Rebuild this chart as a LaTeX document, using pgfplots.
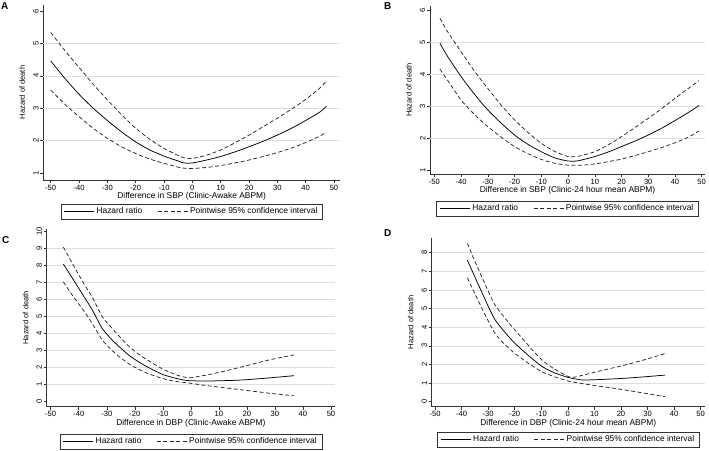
\documentclass[border=0pt]{standalone}
\usepackage{fontspec}
\setmainfont{Liberation Sans}
\usepackage{pgfplots}
\pgfplotsset{compat=1.18}
\pgfplotsset{
  hr/.style={black, line width=0.75pt, smooth, tension=0.4},
  ci/.style={black!85, line width=0.75pt, dash pattern=on 4pt off 2.5pt, smooth, tension=0.4},
  stpanel/.style={
    scale only axis,
    axis x line*=bottom, axis y line*=left,
    axis line style={black!80, line width=0.6pt, -},
    tick align=outside,
    major tick length=3pt,
    tick style={black!80, line width=0.5pt},
    xtick={-50,-40,...,50},
    tick label style={font=\fontsize{7.6}{8.5}\selectfont},
    /pgf/number format/assume math mode=true,
    yticklabel style={rotate=90, anchor=south, inner sep=1.5pt},
    xticklabel style={inner sep=1.5pt},
    every axis x label/.style={at={(ticklabel cs:0.5)}, anchor=north, inner sep=1pt, font=\fontsize{8.4}{9.5}\selectfont},
    every axis y label/.style={at={(ticklabel cs:0.5)}, anchor=south, rotate=90, inner sep=3.5pt, font=\fontsize{7.5}{8.5}\selectfont},
    ylabel={Hazard of death},
    grid style={black!12, line width=0.5pt},
    extra y tick labels={},
    extra y tick style={grid=major, major tick length=0pt},
    legend columns=2,
    legend cell align=left,
    legend image code/.code={\draw[##1] (0pt,0pt) -- (30pt,0pt);},
    legend style={at={(axis description cs:0.5,0)}, anchor=north,
      draw=black!80, font=\fontsize{8.4}{9.5}\selectfont,
      inner xsep=3pt, inner ysep=1.5pt,
      /tikz/every even column/.append style={column sep=13pt}},
  }
}
\begin{document}
\begin{tikzpicture}
\path (0,0) rectangle (709pt,450pt);
% Panel A
\begin{axis}[stpanel, at={(43.3pt,270pt)}, anchor=south west,
  width=296.7pt, height=175pt,
  xmin=-52.61, xmax=52.12, ymin=0.784, ymax=6.185,
  ytick={1,...,6}, extra y ticks={2,3,4,5},
  xlabel={Difference in SBP (Clinic-Awake ABPM)},
  legend style={yshift=-24pt}]
\addplot[hr] coordinates {(-50,4.46)(-45,3.92)(-40,3.43)(-35,3.00)(-30,2.62)(-25,2.27)(-20,1.96)(-15,1.71)(-10,1.52)(-5,1.37)(-3,1.31)(0,1.31)(5,1.40)(10,1.51)(15,1.65)(20,1.81)(25,1.98)(30,2.17)(35,2.38)(40,2.62)(45,2.88)(47.3,3.06)};
\addlegendentry{Hazard ratio}
\addplot[ci] coordinates {(-50,5.34)(-45,4.78)(-40,4.26)(-35,3.74)(-30,3.26)(-25,2.80)(-20,2.38)(-15,2.04)(-10,1.76)(-5,1.54)(-3,1.47)(0,1.45)(5,1.55)(10,1.71)(15,1.93)(20,2.17)(25,2.43)(30,2.69)(35,2.97)(40,3.27)(45,3.62)(47.3,3.84)};
\addlegendentry{Pointwise 95\% confidence interval}
\addplot[ci, forget plot] coordinates {(-50,3.56)(-45,3.12)(-40,2.74)(-35,2.38)(-30,2.07)(-25,1.81)(-20,1.60)(-15,1.43)(-10,1.30)(-5,1.18)(-3,1.15)(0,1.14)(5,1.17)(10,1.23)(15,1.31)(20,1.40)(25,1.51)(30,1.63)(35,1.77)(40,1.94)(45,2.14)(47.3,2.26)};
\end{axis}
% Panel B
\begin{axis}[stpanel, at={(430pt,276pt)}, anchor=south west,
  width=275pt, height=168pt,
  xmin=-51.61, xmax=51.23, ymin=0.897, ymax=6.124,
  ytick={1,...,6}, extra y ticks={2,3,4,5},
  xlabel={Difference in SBP (Clinic-24 hour mean ABPM)},
  legend style={yshift=-27pt}]
\addplot[hr] coordinates {(-47.9,4.96)(-45,4.55)(-40,3.93)(-35,3.38)(-30,2.89)(-25,2.48)(-20,2.11)(-15,1.82)(-10,1.59)(-5,1.40)(0,1.30)(3,1.30)(5,1.33)(10,1.44)(15,1.58)(20,1.75)(25,1.92)(30,2.11)(35,2.32)(40,2.56)(45,2.81)(49,3.03)};
\addlegendentry{Hazard ratio}
\addplot[ci] coordinates {(-47.9,5.74)(-45,5.32)(-40,4.70)(-35,4.10)(-30,3.56)(-25,3.04)(-20,2.58)(-15,2.19)(-10,1.85)(-5,1.60)(0,1.44)(3,1.44)(5,1.47)(10,1.59)(15,1.80)(20,2.06)(25,2.34)(30,2.63)(35,2.93)(40,3.25)(45,3.56)(49,3.80)};
\addlegendentry{Pointwise 95\% confidence interval}
\addplot[ci, forget plot] coordinates {(-47.9,4.16)(-45,3.81)(-40,3.20)(-35,2.75)(-30,2.37)(-25,2.04)(-20,1.75)(-15,1.53)(-10,1.35)(-5,1.23)(0,1.17)(5,1.17)(10,1.21)(15,1.28)(20,1.36)(25,1.47)(30,1.59)(35,1.72)(40,1.87)(45,2.04)(49,2.24)};
\end{axis}
% Panel C
\begin{axis}[stpanel, at={(46.7pt,43.3pt)}, anchor=south west,
  width=288.3pt, height=177.7pt,
  xmin=-51.43, xmax=51.43, ymin=-0.294, ymax=10.16,
  ytick={0,...,10}, extra y ticks={1,...,9},
  xlabel={Difference in DBP (Clinic-Awake ABPM)},
  legend style={yshift=-27.3pt}]
\addplot[hr] coordinates {(-45.5,8.10)(-42,7.20)(-38,6.15)(-35,5.35)(-31.6,4.30)(-28,3.62)(-25,3.15)(-21.7,2.68)(-18,2.28)(-15,2.00)(-10,1.60)(-5,1.36)(-1.5,1.25)(0,1.23)(5,1.22)(10,1.23)(17.5,1.27)(25,1.36)(30,1.43)(36.8,1.53)};
\addlegendentry{Hazard ratio}
\addplot[ci] coordinates {(-45.5,9.10)(-42,8.05)(-38,6.90)(-35,6.10)(-31.6,5.00)(-28,4.30)(-25,3.75)(-21.7,3.20)(-18,2.72)(-15,2.40)(-10,1.92)(-5,1.57)(-1.5,1.42)(0,1.41)(5,1.55)(10,1.72)(17.5,2.02)(25,2.34)(30,2.53)(36.8,2.75)};
\addlegendentry{Pointwise 95\% confidence interval}
\addplot[ci, forget plot] coordinates {(-45.5,7.05)(-42,6.20)(-38,5.30)(-35,4.55)(-31.6,3.63)(-28,3.00)(-25,2.58)(-21.7,2.18)(-18,1.86)(-15,1.64)(-10,1.36)(-5,1.18)(-1.5,1.12)(0,1.08)(5,0.96)(10,0.86)(17.5,0.71)(25,0.56)(30,0.46)(36.8,0.35)};
\end{axis}
% Panel D
\begin{axis}[stpanel, at={(431.7pt,43.3pt)}, anchor=south west,
  width=273.3pt, height=168.7pt,
  xmin=-51.24, xmax=51.62, ymin=-0.268, ymax=8.79,
  ytick={0,...,8}, extra y ticks={1,...,8},
  xlabel={Difference in DBP (Clinic-24 hour mean ABPM)},
  legend style={yshift=-25.3pt}]
\addplot[hr] coordinates {(-37.8,7.60)(-35,6.70)(-32,5.76)(-29.5,4.98)(-27.4,4.40)(-25,3.95)(-22,3.45)(-19.9,3.13)(-15,2.50)(-9.8,1.90)(-5,1.55)(0.2,1.30)(5.2,1.17)(10,1.18)(15,1.21)(21.5,1.26)(30,1.35)(36.6,1.43)};
\addlegendentry{Hazard ratio}
\addplot[ci] coordinates {(-37.8,8.50)(-35,7.54)(-32,6.58)(-29.5,5.79)(-27.4,5.19)(-25,4.72)(-22,4.20)(-19.9,3.85)(-15,3.05)(-9.8,2.24)(-5,1.75)(0,1.36)(2,1.31)(5,1.40)(10,1.58)(15,1.75)(21.5,1.97)(30,2.30)(36.6,2.59)};
\addlegendentry{Pointwise 95\% confidence interval}
\addplot[ci, forget plot] coordinates {(-37.8,6.65)(-35,5.80)(-32,4.92)(-29.5,4.20)(-27.4,3.67)(-25,3.25)(-22,2.85)(-19.9,2.59)(-15,2.08)(-9.8,1.61)(-5,1.34)(0.2,1.11)(5,0.98)(10,0.87)(15,0.77)(21.5,0.63)(30,0.43)(36.6,0.27)};
\end{axis}
\node[anchor=north west, inner sep=0pt, font=\fontsize{10}{11}\selectfont\bfseries] at (1pt,448pt) {A};
\node[anchor=north west, inner sep=0pt, font=\fontsize{10}{11}\selectfont\bfseries] at (384pt,448pt) {B};
\node[anchor=north west, inner sep=0pt, font=\fontsize{10}{11}\selectfont\bfseries] at (2pt,214pt) {C};
\node[anchor=north west, inner sep=0pt, font=\fontsize{10}{11}\selectfont\bfseries] at (384pt,221pt) {D};
\end{tikzpicture}
\end{document}
